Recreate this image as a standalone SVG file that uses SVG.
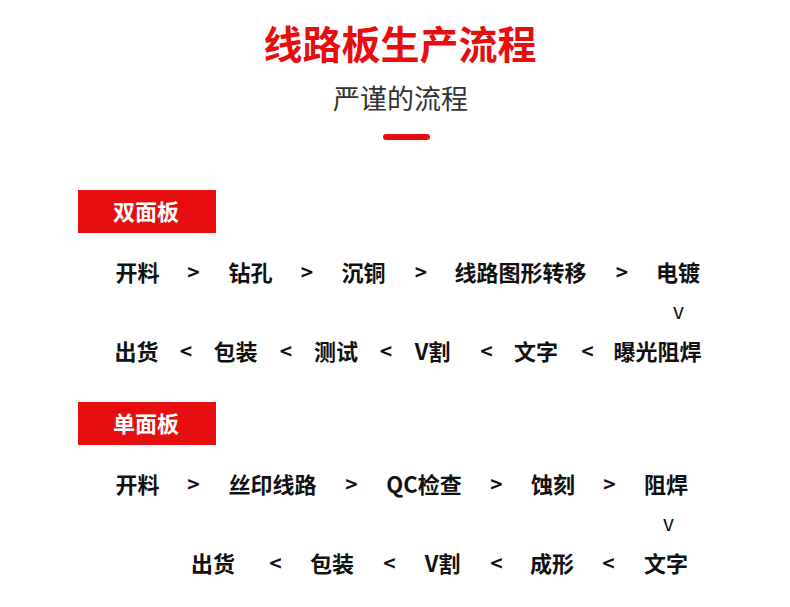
<svg xmlns="http://www.w3.org/2000/svg" width="790" height="607" viewBox="0 0 790 607">
<style>
text{font-family:"Microsoft YaHei","Noto Sans CJK SC","Noto Sans",sans-serif;}
.t{font-size:39px;font-weight:700;fill:#e60e0e;text-anchor:middle;}
.st{font-size:27px;font-weight:400;fill:#333;text-anchor:middle;}
.hd{fill:#e60e0e;}
.hdt{font-size:22px;font-weight:700;fill:#fff;text-anchor:middle;}
.n{font-size:22px;font-weight:700;fill:#111;text-anchor:middle;}
.c{font-size:21px;font-weight:700;fill:#111;text-anchor:middle;}
.cv{font-size:21px;font-weight:400;fill:#111;text-anchor:middle;}
</style>
<rect width="790" height="607" fill="#fff"/>
<g id="title">
<text class="t" x="400" y="59">线路板生产流程</text>
<text class="st" x="400.5" y="109">严谨的流程</text>
<rect x="383" y="134" width="47" height="6" rx="3" fill="#e60e0e"/>
</g>
<g id="header-double">
<rect class="hd" x="78" y="190" width="138" height="43"/>
<text class="hdt" x="146" y="220">双面板</text>
</g>
<g id="header-single">
<rect class="hd" x="78" y="402" width="138" height="43"/>
<text class="hdt" x="146" y="432">单面板</text>
</g>
<g id="d1"><text class="n" x="137.5" y="281">开料</text></g>
<g id="d2"><text class="n" x="250.5" y="281">钻孔</text></g>
<g id="d3"><text class="n" x="363.5" y="281">沉铜</text></g>
<g id="d4"><text class="n" x="520.5" y="281">线路图形转移</text></g>
<g id="d5"><text class="n" x="678" y="281">电镀</text></g>
<g id="d6"><text class="n" x="657.5" y="360">曝光阻焊</text></g>
<g id="d7"><text class="n" x="536" y="360">文字</text></g>
<g id="d8"><text class="n" x="432.5" y="360">V割</text></g>
<g id="d9"><text class="n" x="336" y="360">测试</text></g>
<g id="d10"><text class="n" x="235.5" y="360">包装</text></g>
<g id="d11"><text class="n" x="136.5" y="360">出货</text></g>
<g id="s1"><text class="n" x="137.5" y="493">开料</text></g>
<g id="s2"><text class="n" x="272.5" y="493">丝印线路</text></g>
<g id="s3"><text class="n" x="424" y="493">QC检查</text></g>
<g id="s4"><text class="n" x="553" y="493">蚀刻</text></g>
<g id="s5"><text class="n" x="666" y="493">阻焊</text></g>
<g id="s6"><text class="n" x="666" y="572">文字</text></g>
<g id="s7"><text class="n" x="552" y="572">成形</text></g>
<g id="s8"><text class="n" x="442.5" y="572">V割</text></g>
<g id="s9"><text class="n" x="332" y="572">包装</text></g>
<g id="s10"><text class="n" x="213" y="572">出货</text></g>
<g id="connectors">
<text class="c" x="193.5" y="280">&gt;</text>
<text class="c" x="307" y="280">&gt;</text>
<text class="c" x="421" y="280">&gt;</text>
<text class="c" x="622" y="280">&gt;</text>
<text class="cv" x="678.5" y="319">v</text>
<text class="c" x="587.5" y="359">&lt;</text>
<text class="c" x="486.5" y="359">&lt;</text>
<text class="c" x="386" y="359">&lt;</text>
<text class="c" x="286" y="359">&lt;</text>
<text class="c" x="186" y="359">&lt;</text>
<text class="c" x="193.5" y="492">&gt;</text>
<text class="c" x="351.5" y="492">&gt;</text>
<text class="c" x="496.5" y="492">&gt;</text>
<text class="c" x="609.5" y="492">&gt;</text>
<text class="cv" x="668.5" y="531">v</text>
<text class="c" x="608.5" y="571">&lt;</text>
<text class="c" x="496.5" y="571">&lt;</text>
<text class="c" x="389.5" y="571">&lt;</text>
<text class="c" x="275.5" y="571">&lt;</text>
</g>
</svg>
